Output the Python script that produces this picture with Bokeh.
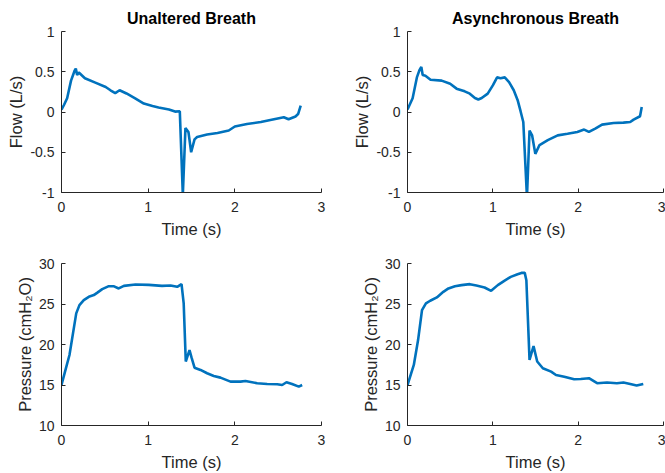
from bokeh.plotting import figure
from bokeh.layouts import gridplot
from bokeh.models import Range1d, FixedTicker
from bokeh.embed import file_html
from bokeh.resources import INLINE

# ---------------- data ----------------
t_flow_unaltered = [0.00, 0.03, 0.065, 0.11, 0.15, 0.165, 0.18, 0.20, 0.27, 0.39, 0.51, 0.565, 0.62,
                    0.67, 0.75, 0.85, 0.95, 1.05, 1.12, 1.24, 1.31, 1.365, 1.40, 1.43, 1.465, 1.496,
                    1.535, 1.565, 1.68, 1.80, 1.93, 2.00, 2.14, 2.30, 2.41, 2.565, 2.62, 2.70, 2.73, 2.76]
flow_unaltered = [0.03, 0.09, 0.17, 0.39, 0.51, 0.54, 0.46, 0.49, 0.42, 0.365, 0.31, 0.27, 0.235,
                  0.27, 0.23, 0.17, 0.105, 0.075, 0.055, 0.03, 0.005, 0.01, -1.03, -0.2, -0.25, -0.5,
                  -0.34, -0.31, -0.28, -0.26, -0.23, -0.18, -0.15, -0.125, -0.1, -0.065, -0.09, -0.055,
                  -0.025, 0.08]

t_flow_async = [0.0, 0.06, 0.11, 0.14, 0.162, 0.178, 0.21, 0.27, 0.40, 0.50, 0.575, 0.67, 0.73, 0.79,
                0.83, 0.87, 0.94, 1.0, 1.05, 1.09, 1.14, 1.19, 1.245, 1.29, 1.325, 1.357, 1.40, 1.43,
                1.46, 1.498, 1.547, 1.644, 1.76, 1.875, 1.99, 2.07, 2.126, 2.20, 2.28, 2.415, 2.53,
                2.61, 2.65, 2.725, 2.745]
flow_async = [0.03, 0.17, 0.43, 0.52, 0.56, 0.46, 0.45, 0.40, 0.39, 0.35, 0.29, 0.257, 0.228, 0.174,
              0.155, 0.174, 0.228, 0.33, 0.43, 0.42, 0.43, 0.372, 0.27, 0.15, 0.01, -0.124, -1.06, -0.23,
              -0.29, -0.52, -0.41, -0.35, -0.29, -0.27, -0.248, -0.218, -0.248, -0.206, -0.157, -0.136,
              -0.132, -0.124, -0.094, -0.053, 0.062]

t_pres_unaltered = [0.0, 0.046, 0.092, 0.17, 0.207, 0.257, 0.315, 0.373, 0.41, 0.47, 0.546, 0.60, 0.66,
                    0.72, 0.854, 1.007, 1.16, 1.258, 1.335, 1.385, 1.41, 1.434, 1.477, 1.50, 1.535,
                    1.604, 1.68, 1.757, 1.834, 1.95, 2.065, 2.123, 2.258, 2.373, 2.489, 2.546, 2.596,
                    2.66, 2.738, 2.777]
pres_unaltered = [15.0, 16.86, 18.7, 23.84, 24.86, 25.48, 25.89, 26.1, 26.38, 26.84, 27.2, 27.2, 26.92,
                  27.24, 27.41, 27.36, 27.24, 27.29, 27.12, 27.45, 25.07, 17.9, 19.3, 18.4, 17.14,
                  16.86, 16.45, 16.12, 15.91, 15.42, 15.42, 15.5, 15.22, 15.13, 15.1, 15.0, 15.34,
                  15.13, 14.8, 15.0]

t_pres_async = [0.0, 0.074, 0.124, 0.17, 0.216, 0.266, 0.344, 0.42, 0.48, 0.556, 0.633, 0.73, 0.807,
                0.903, 0.98, 1.058, 1.134, 1.21, 1.29, 1.335, 1.374, 1.393, 1.43, 1.477, 1.52, 1.586,
                1.683, 1.74, 1.837, 1.953, 2.03, 2.126, 2.222, 2.338, 2.454, 2.531, 2.61, 2.685, 2.763]
pres_async = [15.0, 17.48, 20.55, 24.25, 25.07, 25.4, 25.81, 26.5, 26.92, 27.2, 27.33, 27.45, 27.29,
              27.04, 26.63, 27.33, 27.86, 28.35, 28.68, 28.84, 28.84, 27.94, 18.1, 19.8, 17.9, 17.07,
              16.65, 16.24, 16.03, 15.71, 15.75, 15.84, 15.22, 15.3, 15.22, 15.3, 15.13, 14.93, 15.13]

titles = ["Unaltered Breath", "Asynchronous Breath"]
x_label = "Time (s)"
flow_label = "Flow (L/s)"
pres_label = "Pressure (cmH\u2082O)"

time_ticks = [0, 1, 2, 3]
time_tick_labels = ["0", "1", "2", "3"]
flow_ticks = [-1, -0.5, 0, 0.5, 1]
flow_tick_labels = ["-1", "-0.5", "0", "0.5", "1"]
pres_ticks = [10, 15, 20, 25, 30]
pres_tick_labels = ["10", "15", "20", "25", "30"]

# ---------------- styling ----------------
LINE = "#0072BD"
AX = "#262626"
FONT = "Liberation Sans"


def make(x, y, yr, yticks, ylabels, ylabel, title, width, height, bl, br, bt, bb):
    p = figure(width=width, height=height, output_backend="svg", toolbar_location=None,
               x_range=Range1d(0, 3), y_range=Range1d(*yr),
               min_border_left=bl, min_border_right=br, min_border_top=bt, min_border_bottom=bb,
               title=title)
    p.outline_line_color = None
    p.background_fill_color = "white"
    p.border_fill_color = "white"
    p.grid.visible = False
    p.line(x, y, line_color=LINE, line_width=2.6)
    if title:
        p.title.text_font = FONT
        p.title.text_font_size = "16px"
        p.title.text_font_style = "bold"
        p.title.text_color = "black"
        p.title.align = "center"
        p.title.standoff = 10
    for ax, ticks, labels, lab, ls, als in ((p.xaxis[0], time_ticks, time_tick_labels, x_label, 9, 5),
                                            (p.yaxis[0], yticks, ylabels, ylabel, 7, 2)):
        ax.ticker = FixedTicker(ticks=ticks)
        ax.major_label_overrides = dict(zip(ticks, labels))
        ax.axis_label = lab
        ax.axis_label_text_font = FONT
        ax.axis_label_text_font_size = "16.5px"
        ax.axis_label_text_font_style = "normal"
        ax.axis_label_text_color = AX
        ax.major_label_text_font = FONT
        ax.major_label_text_font_size = "14px"
        ax.major_label_text_color = AX
        ax.axis_line_color = AX
        ax.major_tick_line_color = AX
        ax.major_tick_in = 4
        ax.major_tick_out = 0
        ax.minor_tick_line_color = None
        ax.major_label_standoff = ls
        ax.axis_label_standoff = als
    return p


W1, W2 = 350, 315
H1, H2 = 241, 232

p1 = make(t_flow_unaltered, flow_unaltered, (-1, 1), flow_ticks, flow_tick_labels, flow_label,
          titles[0], W1, H1, 61, 29, 31, 49)
p2 = make(t_flow_async, flow_async, (-1, 1), flow_ticks, flow_tick_labels, flow_label,
          titles[1], W2, H1, 53, 2, 31, 49)
p3 = make(t_pres_unaltered, pres_unaltered, (10, 30), pres_ticks, pres_tick_labels, pres_label,
          None, W1, H2, 61, 29, 22, 47)
p4 = make(t_pres_async, pres_async, (10, 30), pres_ticks, pres_tick_labels, pres_label,
          None, W2, H2, 53, 2, 22, 47)

grid = gridplot([[p1, p2], [p3, p4]], toolbar_location=None)

open("out.html", "w").write(file_html(grid, INLINE))
